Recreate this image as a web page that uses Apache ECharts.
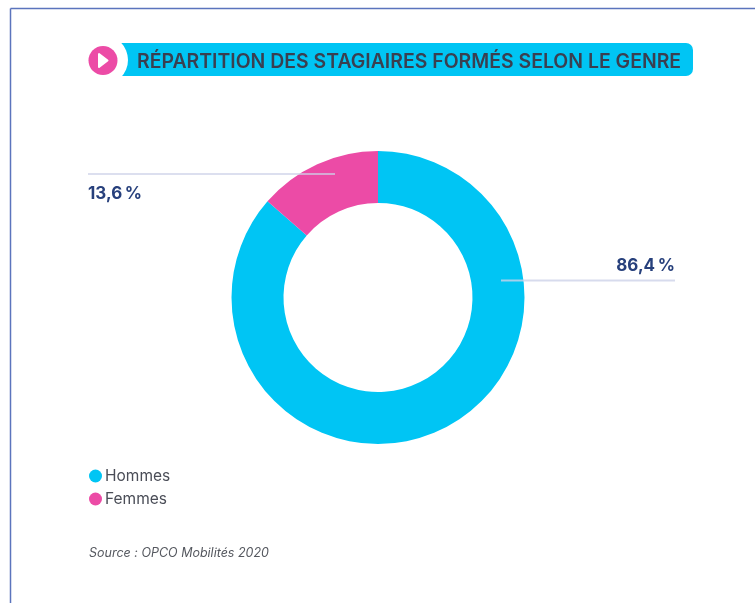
<!DOCTYPE html>
<html>
<head>
<meta charset="utf-8">
<style>
html, body { margin: 0; padding: 0; background: #fff; }
#chart { width: 755px; height: 603px; }
</style>
<script src="https://cdn.jsdelivr.net/npm/echarts@6/dist/echarts.min.js"></script>
</head>
<body>
<div id="chart"></div>
<script>
const categories = ['Hommes', 'Femmes'];
const values = [86.4, 13.6];
const colors = ['#00c5f4', '#ec4ba6'];
const titleText = 'RÉPARTITION DES STAGIAIRES FORMÉS SELON LE GENRE';
const sourceText = 'Source : OPCO Mobilités 2020';

const fontName = 'Inter, "Noto Sans", sans-serif';
const fmt = v => v.toFixed(1).replace('.', ',') + '\u202f%';
const chart = echarts.init(document.getElementById('chart'));

chart.setOption({
    animation: false,
    backgroundColor: '#fff',
    title: [{
        text: titleText,
        left: 137,
        top: 52,
        padding: 0,
        textStyle: { color: '#3a3f50', fontFamily: fontName, fontSize: 19.45, fontWeight: 600, lineHeight: 20 }
    }, {
        text: sourceText,
        left: 89,
        top: 546,
        padding: 0,
        textStyle: { color: '#55585f', fontFamily: fontName, fontSize: 12.5, fontStyle: 'italic', fontWeight: 400, lineHeight: 14 }
    }],
    legend: {
        orient: 'vertical',
        left: 89,
        top: 468,
        padding: 0,
        itemGap: 7,
        itemWidth: 13,
        itemHeight: 13,
        icon: 'circle',
        data: categories,
        textStyle: { color: '#4a4d57', fontFamily: fontName, fontSize: 15.5, padding: [0, 0, 0, -2] }
    },
    series: [{
        type: 'pie',
        center: [378, 297.5],
        radius: [94.5, 146.5],
        startAngle: 90,
        clockwise: true,
        silent: true,
        label: { show: false },
        labelLine: { show: false },
        data: categories.map((name, i) => ({
            name: name,
            value: values[i],
            itemStyle: { color: colors[i] }
        }))
    }],
    graphic: [
        // cadre
        { type: 'line', z: 1, shape: { x1: 10.5, y1: 8.5, x2: 755, y2: 8.5 }, style: { stroke: '#5b74bd', lineWidth: 1.5 } },
        { type: 'line', z: 1, shape: { x1: 10.5, y1: 8.5, x2: 10.5, y2: 603 }, style: { stroke: '#5b74bd', lineWidth: 1.5 } },
        // bandeau du titre
        { type: 'rect', z: 1, shape: { x: 110, y: 43, width: 583, height: 33, r: [0, 7, 7, 0] }, style: { fill: colors[0] } },
        { type: 'circle', z: 2, shape: { cx: 103, cy: 60, r: 25 }, style: { fill: '#fff' } },
        { type: 'circle', z: 3, shape: { cx: 103, cy: 60.5, r: 14.5 }, style: { fill: colors[1] } },
        { type: 'polygon', z: 4, shape: { points: [[99, 54], [99, 67], [107.5, 60.5]] }, style: { fill: '#fff', stroke: '#fff', lineWidth: 2, lineJoin: 'round' } },
        // traits de rappel
        { type: 'line', z: 10, shape: { x1: 88, y1: 174, x2: 335, y2: 174 }, style: { stroke: 'rgba(205,210,232,0.7)', lineWidth: 2 } },
        { type: 'line', z: 10, shape: { x1: 501, y1: 280.5, x2: 675, y2: 280.5 }, style: { stroke: 'rgba(205,210,232,0.8)', lineWidth: 2 } },
        // valeurs
        { type: 'text', z: 10, x: 88, y: 194, style: { text: fmt(values[1]), fill: '#27407c', font: '700 17px ' + fontName, textAlign: 'left', textVerticalAlign: 'middle' } },
        { type: 'text', z: 10, x: 675, y: 266, style: { text: fmt(values[0]), fill: '#27407c', font: '700 17px ' + fontName, textAlign: 'right', textVerticalAlign: 'middle' } }
    ]
});
</script>
</body>
</html>
